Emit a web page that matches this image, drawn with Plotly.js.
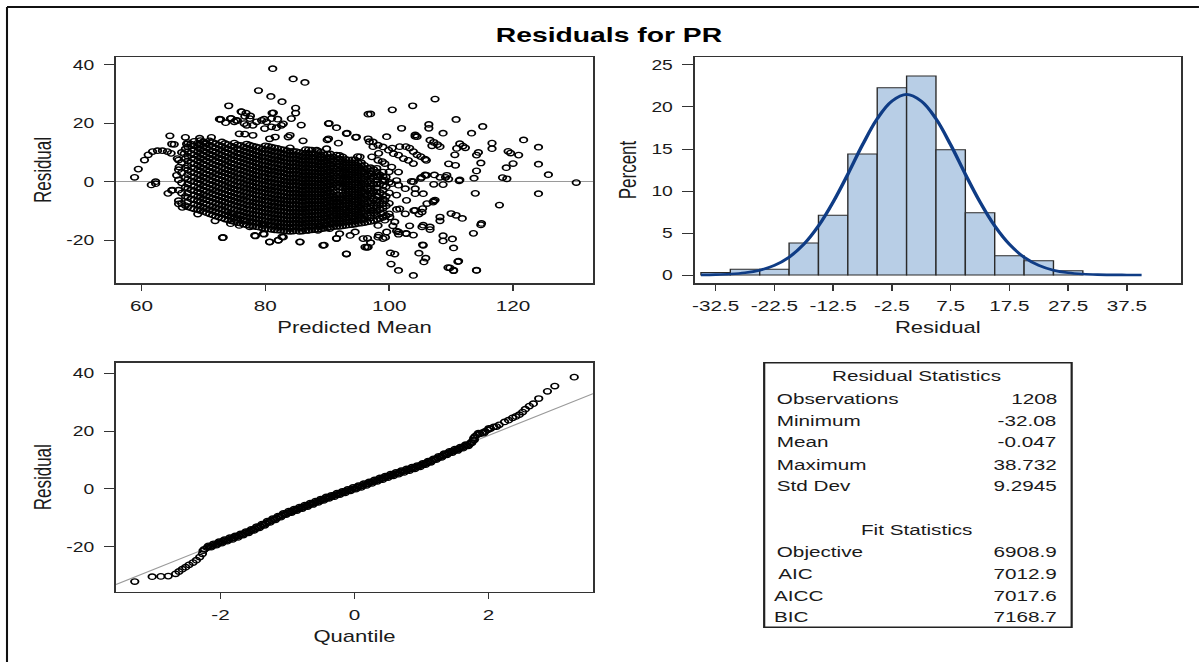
<!DOCTYPE html>
<html><head><meta charset="utf-8">
<script src="https://cdn.plot.ly/plotly-3.0.1.min.js"></script>
<style>
html,body{margin:0;padding:0;background:#fff;overflow:hidden;width:1199px;height:662px;}
#wrap{width:1199px;height:662px;overflow:hidden;position:relative;}
#chart{width:869px;height:662px;transform:scaleX(1.3797);transform-origin:0 0;}
</style></head><body><div id="wrap"><div id="chart"></div></div>
<script>
// ---------------- DATA ----------------
// Histogram of residuals (percent per 5-unit bin, centres)
const histCenters = [-32.5,-27.5,-22.5,-17.5,-12.5,-7.5,-2.5,2.5,7.5,12.5,17.5,22.5,27.5];
const histPercent = [0.3,0.7,0.7,3.8,7.1,14.4,22.3,23.7,14.9,7.4,2.3,1.7,0.5];
const histTickVals = [-32.5,-22.5,-12.5,-2.5,7.5,17.5,27.5,37.5];
const histTickText = ['-32.5','-22.5','-12.5','-2.5','7.5','17.5','27.5','37.5'];
// Normal density curve
const curveX = [-35,-32.5,-30,-27.5,-25,-22.5,-20,-17.5,-15,-12.5,-10,-7.5,-5,-2.5,0,2.5,5,7.5,10,12.5,15,17.5,20,22.5,25,27.5,30,32.5,35,37.5,40];
const curveY = [0.02,0.05,0.12,0.27,0.58,1.15,2.12,3.65,5.84,8.69,12.0,15.5,18.6,20.7,21.5,20.7,18.6,15.5,12.0,8.69,5.84,3.65,2.12,1.15,0.58,0.27,0.12,0.05,0.02,0.01,0.0];

// Axis tick labels (hyphen minus, as in the reference)
const resTickVals = [-20,0,20,40];
const resTickText = ['-20','0','20','40'];
const predTickVals = [60,80,100,120];
const predTickText = ['60','80','100','120'];
const pctTickVals = [0,5,10,15,20,25];
const pctTickText = ['0','5','10','15','20','25'];
const qTickVals = [-2,0,2];
const qTickText = ['-2','0','2'];

// Residual vs predicted mean: scattered points [predicted, residual]
const scatterSparse = [
[58.9,1.5],[59.5,4.3],[60.5,7.4],[61.1,9.2],[61.8,10.3],[62.6,10.6],[63.4,10.6],[64.2,10.3],[64.8,9.7],
[61.6,-1.1],[62.3,0],[62.3,-0.7],[64.3,-4],[64.9,-3],[65.0,-2.9],[66.0,-7.6],[66.6,-8.8],[69.1,-11.1],[71.9,-13.4],[73.2,-19.1],
[64.6,15.7],[64.9,12.9],[67.1,15.2],[67.3,12.9],[69.4,14.9],[71.3,15.2],[65.3,12.8],[69.3,12.8],[70.4,13.3],[66.9,9.6],[65.8,7.9],[66.1,5.0],[65.7,2.2],
[74.1,26],[72.6,21.4],[73.6,20.2],[74.5,21.7],[75.5,20.9],[76.1,24],[76.9,23.5],[75.8,16.4],[77.6,22.5],[78.9,31.2],[81.2,38.7],[80.9,29.2],[82.7,27.4],
[84.5,35.2],[86.4,34],[84.9,25.2],[84.9,23.5],[84.2,21.6],[85.8,19.4],[81.1,23.5],[79.8,21.4],[82.0,21.4],[82.9,19.8],
[81.3,23.6],[81.0,21.6],[80.2,20.5],[79.4,21.0],[78.6,20.5],[77.5,21.6],[76.7,22.4],[76.2,23.9],
[82.6,19.3],[81.8,18.5],[81.0,18.8],[79.9,18.2],[78.0,19.3],[77.0,19.3],
[84.0,15.9],[83.7,15.3],[81.6,15.3],[80.7,14.7],[78.0,15.9],[76.7,16.3],[86.1,14.0],
[72.8,21.3],[74.4,21.6],[75.0,20.5],[76.6,19.9],[75.3,21.0],
[90.2,19.9],[91.5,18.5],[93.1,16.5],[94.7,15.3],[90.2,14.7],[96.6,23.1],[90.3,20],[93.2,16.6],[94.6,15.2],[97,23.2],
[90.0,14.3],[91.8,13.2],[96.8,13.7],[97.4,12.0],[94.9,8.6],[98.3,9.7],[98.9,6.9],[88.3,10.8],[89.9,11.3],[95.3,8.5],
[100.5,24.6],[103.8,26],[107.4,28.3],[106.4,19.6],[106.4,18.3],[108.7,16.6],[110.8,21.3],[115.1,18.9],[113.3,16.6],[116.6,13.2],
[121.7,14.3],[124.1,11.8],[124.1,6],[125.7,2.4],[130.2,-0.3],[124.1,-4.1],[117.8,-8],[119.2,10.4],[119.6,9.8],[120.9,9.1],
[120.0,6.2],[118.9,4.8],[118.3,1.4],[119.0,1.0],[116.6,11.3],
[114.4,10],[114.1,9.1],[114.8,6.4],[114.1,3.7],[113.7,1.2],[113.9,-4.0],[114.8,-14.8],[113.6,-17.7],[114.1,-30.3],
[110.4,-30.5],[109.8,-29.5],[111.1,-27.4],[108.7,-20.3],[110.4,-22.7],[110.0,-10.9],[110.8,-11.5],[111.8,-12.6],[108.2,-13.4],[107.2,-6.6],
[103.9,-32.1],[101.5,-30.4],[100.3,-28.2],[100.2,-24.4],[100.9,-24.8],[104.8,-24.5],[105.9,-26.2],[105.6,-27.5],[105.4,-21.6],
[103.9,-18.3],[102.7,-17.7],[101.5,-18.0],[103.3,-15.1],[105.3,-15.5],[106.6,-16.4],
[93.1,-24.8],[89.5,-21.7],[91.5,-19.4],[85.6,-20.6],[80.7,-20.6],[82.1,-20],[82.7,-18.9],[78.4,-18.6],[79.8,-18],
[96.5,-19.4],[97,-20.9],[96.4,-22.5],[98.3,-18.3],[99.4,-19.1],[100.6,-15.1],[101.2,-16.9],[104,-9.9],[104.8,-11.1],[105.4,-9.2],
[107.3,2.3],[109.1,1.5],[108.7,-1],[109.6,0.9],[111.3,0.3],[107.2,-0.9],[105.8,2.3],[105.1,1.1],[103.9,0],[103.6,0.1],
[111.4,0.6],[109.3,2.2],[108.2,1.5],[106.0,2.2],[105.2,1.5],
[111.4,13.0],[111.9,12.2],[112.3,11.6],[110.9,11.4],[110.6,9.2],[109.6,6.1],[110.7,5.6],[106.0,7.3],
[106.6,14.2],[107.2,13.5],[107.8,12.7],[108.2,12.0],[106.9,12.3],[104.2,15.5],[102.0,18.3],[99.6,15.4],[104.5,15.4],[104.2,16.0],
[96.6,14.7],[97.4,13.6],[98.2,12.5],[99.0,11.9],[99.9,10.8],[100.7,9.6],[101.5,9.1],[102.3,7.9],[103.1,7.3],[103.9,6.2],
[100.5,11.5],[101.7,12.0],[102.7,12.0],[103.3,11.5],[103.9,10.3],[104.5,9.2],[105.1,8.6],[105.8,7.7],
[97.2,8.5],[98.2,7.3],[99.3,6.2],[100.4,5.0],[101.5,3.3],
[97.2,2.7],[98.2,1.6],[99.3,0.5],[100.4,-0.7],
[97.2,-4.1],[98.2,-5.2],[99.3,-6.4],
[97.4,-9.8],[98.7,-11],[100.1,-12.1],
[96.6,-22.4],[98.2,-19.0],[99.0,-19.5],[99.6,-17.2],[98.2,-15.0],[99.3,-13.2],[100.9,-13.8],[102.6,-11.0],[101.7,-9.3],[102.8,-6.4],
[104.2,-9.8],[105.3,-10.4],[106.1,-7.5],[107.1,-7.0],[105.5,-4.1],[104.2,-4.1],[104.2,-2.4],[102.6,-2.4],[101.5,-1.2],
[107.4,-6.3],[108.2,-12.1],[105.5,-14.9],[106.6,-15.5],[114.9,-14.3],[108.7,-18.5],[110.2,-19.6],[105.5,-21.8],[101.5,-17.2],[102.8,-17.8],
[109.5,-29.4],[110.4,-30.3],[111.2,-27.2],[114.1,-30.4],
[78.3,-18.4],[79.7,-17.8],[80.7,-20.7],[82.1,-20.1],[82.9,-19.0],[85.6,-20.7],[86.9,-16.7],[88.8,-15.5],[89.3,-21.8],[91.5,-19.5],
[93.1,-24.7],[94.5,-17.2],[95.8,-19.5],[96.1,-22.4],
[76.7,-13.2],[77.5,-15.5],[79.7,-15.0],[82.4,-15.5],[84.0,-16.1],[88.5,-16.7],[90.4,-16.1],[92.0,-17.8],[93.7,-18.4],
[74.7,-11],[74.4,-14.4],[75.8,-15.0],[75.3,-13.2],[73.1,-19.2]
];
// Dense core of the cloud: [predicted, [residuals...]]
const scatterCore = [
[66.0,[-6.5,-2.9,0.6,4.1,7.4]],
[66.5,[-7.4,-3.9,-0.4,3.1,6.6,10.0]],
[67.1,[-8.2,-5.0,-1.9,1.4,4.7,7.9,11.2]],
[67.5,[-8.6,-7.0,-5.4,-3.9,-2.3,-0.8,0.8,2.4,4.0,5.5,7.1,8.7,10.3,11.9,13.4]],
[68.0,[-9.0,-5.9,-2.8,0.3,3.4,6.5,9.7,12.9]],
[68.5,[-9.3,-7.7,-6.2,-4.6,-3.1,-1.6,0.0,1.5,3.0,4.6,6.1,7.7,9.2,10.8,12.3,13.8]],
[69.1,[-9.6,-8.1,-6.5,-5.0,-3.6,-2.0,-0.5,1.0,2.5,4.1,5.6,7.2,8.7,10.3,11.7,13.2]],
[69.5,[-9.9,-8.4,-6.9,-5.4,-3.9,-2.4,-0.9,0.6,2.1,3.6,5.1,6.6,8.1,9.6,11.1,12.6,14.1]],
[70.0,[-10.2,-8.8,-7.3,-5.8,-4.4,-2.9,-1.4,0.1,1.6,3.1,4.6,6.1,7.6,9.1,10.6,12.1,13.7]],
[70.5,[-10.6,-9.2,-7.7,-6.2,-4.8,-3.3,-1.8,-0.3,1.2,2.6,4.1,5.6,7.1,8.6,10.1,11.5,13.0]],
[71.0,[-11.0,-9.6,-8.2,-6.6,-5.2,-3.7,-2.3,-0.8,0.7,2.2,3.6,5.1,6.6,8.1,9.5,11.0,12.5,14.0]],
[71.5,[-11.4,-9.9,-8.5,-7.0,-5.6,-4.1,-2.7,-1.2,0.3,1.7,3.2,4.7,6.1,7.6,9.1,10.5,12.0,13.5]],
[72.0,[-11.8,-10.3,-8.9,-7.4,-6.0,-4.5,-3.1,-1.6,-0.2,1.3,2.8,4.2,5.7,7.2,8.6,10.1,11.6,13.0]],
[72.5,[-12.1,-10.7,-9.2,-7.8,-6.3,-4.9,-3.4,-2.0,-0.5,0.9,2.4,3.8,5.3,6.7,8.2,9.6,11.1,12.5]],
[73.0,[-12.4,-11.0,-9.5,-8.1,-6.7,-5.2,-3.8,-2.4,-0.9,0.5,2.0,3.4,4.9,6.3,7.8,9.2,10.7,12.1,13.6]],
[73.5,[-12.8,-11.3,-9.9,-8.5,-7.0,-5.6,-4.2,-2.7,-1.3,0.1,1.6,3.0,4.4,5.9,7.3,8.7,10.2,11.6,13.1]],
[74.0,[-13.1,-11.7,-10.3,-8.8,-7.4,-6.0,-4.6,-3.1,-1.7,-0.3,1.2,2.6,4.0,5.5,6.9,8.3,9.8,11.2,12.7]],
[74.5,[-13.4,-12.0,-10.6,-9.2,-7.7,-6.3,-4.9,-3.5,-2.1,-0.7,0.8,2.2,3.6,5.0,6.4,7.9,9.3,10.7,12.2]],
[75.0,[-13.7,-12.3,-10.9,-9.5,-8.1,-6.7,-5.3,-3.9,-2.5,-1.1,0.4,1.8,3.2,4.6,6.0,7.5,8.9,10.3,11.8,13.2]],
[75.5,[-14.0,-12.6,-11.2,-9.8,-8.4,-7.0,-5.6,-4.2,-2.8,-1.4,0.0,1.4,2.8,4.2,5.6,7.0,8.4,9.8,11.2,12.6]],
[76.0,[-14.2,-12.8,-11.4,-10.0,-8.6,-7.2,-5.8,-4.4,-3.0,-1.6,-0.2,1.2,2.6,4.0,5.4,6.8,8.2,9.6,11.0,12.4]],
[76.5,[-14.5,-13.1,-11.7,-10.3,-8.9,-7.5,-6.1,-4.8,-3.4,-2.0,-0.6,0.8,2.2,3.6,5.0,6.4,7.8,9.1,10.5,11.9]],
[77.0,[-14.8,-13.4,-12.0,-10.7,-9.3,-7.9,-6.5,-5.1,-3.7,-2.3,-1.0,0.4,1.8,3.2,4.6,6.0,7.3,8.7,10.1,11.5,12.9]],
[77.5,[-15.0,-13.6,-12.3,-10.9,-9.5,-8.1,-6.8,-5.4,-4.0,-2.6,-1.3,0.1,1.5,2.9,4.2,5.6,7.0,8.4,9.8,11.1,12.5]],
[78.0,[-15.2,-13.8,-12.5,-11.1,-9.7,-8.3,-7.0,-5.6,-4.2,-2.9,-1.5,-0.1,1.3,2.6,4.0,5.4,6.8,8.1,9.5,10.9,12.2]],
[78.5,[-15.4,-14.0,-12.7,-11.3,-9.9,-8.6,-7.2,-5.9,-4.5,-3.1,-1.8,-0.4,1.0,2.3,3.7,5.1,6.4,7.8,9.2,10.5,11.9]],
[79.0,[-15.6,-14.2,-12.9,-11.5,-10.1,-8.8,-7.4,-6.1,-4.7,-3.3,-2.0,-0.6,0.8,2.1,3.5,4.8,6.2,7.6,8.9,10.3,11.7]],
[79.5,[-15.8,-14.4,-13.1,-11.7,-10.4,-9.0,-7.7,-6.3,-5.0,-3.6,-2.3,-0.9,0.4,1.8,3.1,4.5,5.8,7.2,8.5,9.9,11.2]],
[80.0,[-16.0,-14.6,-13.3,-11.9,-10.6,-9.2,-7.9,-6.5,-5.2,-3.8,-2.5,-1.1,0.2,1.6,2.9,4.3,5.6,7.0,8.3,9.7,11.0,12.3]],
[80.5,[-16.2,-14.8,-13.5,-12.1,-10.8,-9.4,-8.1,-6.7,-5.4,-4.0,-2.7,-1.4,0.0,1.3,2.7,4.0,5.4,6.7,8.1,9.4,10.8,12.1]],
[81.0,[-16.3,-15.0,-13.6,-12.3,-10.9,-9.6,-8.3,-6.9,-5.6,-4.2,-2.9,-1.6,-0.2,1.1,2.5,3.8,5.1,6.5,7.8,9.2,10.5,11.8]],
[81.5,[-16.5,-15.1,-13.8,-12.5,-11.1,-9.8,-8.4,-7.1,-5.8,-4.4,-3.1,-1.8,-0.4,0.9,2.3,3.6,4.9,6.3,7.6,8.9,10.3,11.6]],
[82.0,[-16.6,-15.3,-13.9,-12.6,-11.3,-9.9,-8.6,-7.3,-5.9,-4.6,-3.3,-1.9,-0.6,0.7,2.1,3.4,4.7,6.1,7.4,8.7,10.1,11.4]],
[82.5,[-16.7,-15.4,-14.0,-12.7,-11.4,-10.1,-8.7,-7.4,-6.1,-4.8,-3.4,-2.1,-0.8,0.5,1.9,3.2,4.5,5.8,7.2,8.5,9.8,11.1]],
[83.0,[-16.8,-15.5,-14.2,-12.9,-11.5,-10.2,-8.9,-7.6,-6.3,-5.0,-3.6,-2.3,-1.0,0.3,1.6,3.0,4.3,5.6,6.9,8.2,9.6,10.9]],
[83.5,[-16.9,-15.6,-14.3,-13.0,-11.7,-10.4,-9.0,-7.7,-6.4,-5.1,-3.8,-2.5,-1.2,0.1,1.4,2.7,4.0,5.3,6.6,8.0,9.3,10.6]],
[84.0,[-17.0,-15.7,-14.4,-13.1,-11.8,-10.5,-9.2,-7.9,-6.6,-5.3,-4.0,-2.7,-1.4,-0.1,1.2,2.5,3.8,5.1,6.4,7.7,9.0,10.3,11.6]],
[84.5,[-16.9,-15.6,-14.3,-13.0,-11.7,-10.4,-9.1,-7.8,-6.5,-5.2,-3.9,-2.6,-1.3,0.0,1.3,2.6,3.9,5.2,6.5,7.8,9.1,10.4]],
[85.0,[-16.8,-15.5,-14.2,-12.9,-11.6,-10.4,-9.1,-7.8,-6.5,-5.2,-3.9,-2.6,-1.3,0.0,1.3,2.6,3.9,5.2,6.5,7.7,9.0,10.3]],
[85.5,[-17.0,-15.7,-14.4,-13.1,-11.8,-10.5,-9.2,-7.9,-6.6,-5.3,-4.1,-2.8,-1.5,-0.2,1.1,2.4,3.6,4.9,6.2,7.5,8.8,10.0]],
[86.0,[-16.9,-15.6,-14.3,-13.1,-11.8,-10.5,-9.3,-8.0,-6.7,-5.5,-4.2,-2.9,-1.7,-0.4,0.9,2.1,3.4,4.7,5.9,7.2,8.5,9.7]],
[86.5,[-16.7,-15.4,-14.2,-12.9,-11.6,-10.4,-9.1,-7.9,-6.6,-5.3,-4.1,-2.8,-1.5,-0.3,1.0,2.2,3.5,4.8,6.0,7.3,8.5,9.8,11.0]],
[87.0,[-16.6,-15.3,-14.1,-12.8,-11.6,-10.3,-9.1,-7.8,-6.6,-5.3,-4.1,-2.8,-1.6,-0.3,0.9,2.2,3.4,4.7,5.9,7.2,8.4,9.7,10.9]],
[87.5,[-16.5,-15.2,-14.0,-12.8,-11.5,-10.3,-9.0,-7.8,-6.6,-5.3,-4.1,-2.9,-1.6,-0.4,0.9,2.1,3.3,4.6,5.8,7.1,8.3,9.5,10.8]],
[88.0,[-16.4,-15.2,-13.9,-12.7,-11.5,-10.2,-9.0,-7.8,-6.5,-5.3,-4.1,-2.8,-1.6,-0.4,0.9,2.1,3.3,4.6,5.8,7.0,8.3,9.5]],
[88.5,[-16.3,-15.1,-13.9,-12.7,-11.4,-10.2,-9.0,-7.8,-6.6,-5.3,-4.1,-2.9,-1.7,-0.5,0.7,2.0,3.2,4.4,5.6,6.8,8.0,9.2,10.4]],
[89.0,[-16.2,-15.0,-13.8,-12.6,-11.4,-10.2,-9.0,-7.8,-6.6,-5.4,-4.2,-3.0,-1.8,-0.6,0.6,1.8,3.0,4.2,5.4,6.6,7.8,9.0,10.2]],
[89.5,[-16.0,-14.8,-13.6,-12.4,-11.2,-10.0,-8.8,-7.6,-6.4,-5.2,-4.0,-2.8,-1.6,-0.4,0.8,2.0,3.2,4.4,5.6,6.8,8.0,9.2]],
[90.0,[-15.8,-14.6,-13.4,-12.2,-11.0,-9.8,-8.6,-7.4,-6.2,-5.0,-3.8,-2.6,-1.4,-0.2,1.0,2.2,3.4,4.6,5.8,7.0,8.2,9.4]],
[90.5,[-15.6,-14.4,-13.2,-12.0,-10.8,-9.6,-8.4,-7.2,-6.1,-4.9,-3.7,-2.5,-1.3,-0.1,1.1,2.3,3.5,4.7,5.9,7.1,8.3,9.5]],
[91.0,[-15.4,-14.2,-13.0,-11.8,-10.6,-9.5,-8.3,-7.1,-5.9,-4.7,-3.5,-2.3,-1.1,0.1,1.3,2.5,3.6,4.8,6.0,7.2,8.4]],
[91.5,[-15.3,-14.1,-12.9,-11.7,-10.6,-9.4,-8.2,-7.0,-5.8,-4.6,-1.6,-0.4,0.8,2.0,3.2,4.4,5.5,6.7,7.9,9.1]],
[92.0,[-15.3,-14.1,-12.9,-11.7,-10.5,-9.4,-8.2,-7.0,-5.8,-4.6,-1.8,-0.6,0.6,1.8,3.0,4.2,5.4,6.6,7.8,9.0]],
[92.5,[-15.1,-13.9,-12.7,-11.6,-10.4,-9.2,-8.0,-6.8,-5.7,-4.5,-3.3,-2.1,-0.9,0.3,1.4,2.6,3.8,5.0,6.2,7.3,8.5]],
[93.0,[-15.0,-13.8,-12.6,-11.4,-10.3,-9.1,-7.9,-6.7,-5.5,-4.3,-3.1,-1.9,-0.7,0.5,1.7,2.9,4.0,5.2,6.4,7.6]],
[93.5,[-14.8,-13.7,-12.5,-11.3,-10.1,-9.0,-7.8,-6.6,-5.5,-4.3,-3.1,-1.9,-0.8,0.4,1.6,2.7,3.9,5.1,6.3,7.4]],
[94.0,[-14.7,-13.5,-12.3,-11.2,-10.0,-8.8,-7.7,-6.5,-5.3,-4.2,-3.0,-1.8,-0.7,0.5,1.7,2.8,4.0,5.2,6.3,7.5]],
[94.5,[-14.5,-13.4,-12.2,-11.0,-9.9,-8.7,-7.6,-6.4,-5.2,-4.1,-2.9,-1.8,-0.6,0.6,1.7,2.9,4.0,5.2,6.4,7.5]],
[95.0,[-14.3,-13.2,-12.0,-10.9,-9.7,-8.6,-7.4,-6.3,-5.1,-4.0,-2.8,-1.7,-0.5,0.6,1.8,2.9,4.1,5.2,6.4]],
[95.5,[-14.2,-13.0,-11.9,-10.7,-9.6,-8.4,-7.3,-6.1,-5.0,-3.8,-2.7,-1.5,-0.4,0.8,1.9,3.1,4.2,5.4,6.5]],
[96.0,[-14.0,-12.8,-11.7,-10.5,-9.4,-8.2,-7.1,-5.9,-4.8,-3.6,-2.5,-1.3,-0.2,1.0,2.1,3.3,4.4,5.6]],
[96.5,[-13.8,-11.5,-9.2,-6.9,-4.6,-2.3,0.0,2.3,4.6]],
[97.0,[-13.6,-12.4,-11.3,-10.1,-9.0,-7.8,-6.7,-5.5,-4.4,-3.2,-2.1,-0.9,0.2,1.4,2.5,3.7,4.8]],
[97.5,[-13.3,-10.8,-8.3,-5.8,-3.3,-0.8,1.7,4.2]],
[98.0,[-12.9,-11.6,-10.2,-8.9,-7.5,-6.2,-4.8,-3.5,-2.1,-0.8,0.6,1.9,3.3,4.6]],
[98.5,[-12.6,-9.6,-6.7,-3.7,-0.7,2.3]],
[99.0,[-12.2,-10.6,-9.1,-7.5,-6.0,-4.4,-2.9,-1.3,0.2,1.8,3.3]],
[99.5,[-11.6,-8.3,-5.0,-1.7,1.6]],
[100.0,[-11.0,-7.4,-3.8,-0.2,3.4]],
[101.2,[-9.5,-4.6,0.4]]
];

// Q-Q plot points [normal quantile, residual]
const qqPoints = [
[-3.28,-32.1],[-3.02,-30.4],[-2.89,-30.3],[-2.78,-30.2],[-2.67,-29.4],[-2.62,-28.6],[-2.57,-27.8],[-2.52,-27.1],[-2.47,-26.3],
[-2.41,-25.5],[-2.36,-24.7],[-2.31,-23.6],[-2.27,-22.5],[-2.26,-21.4],[-2.24,-20.9],
[-2.20,-20.3],[-2.16,-20.0],[-2.12,-19.6],[-2.08,-19.3],[-2.04,-18.9],[-2.00,-18.6],[-1.96,-18.2],[-1.92,-17.9],[-1.88,-17.6],
[-1.84,-17.2],[-1.80,-16.9],[-1.76,-16.5],[-1.72,-16.2],[-1.68,-15.8],[-1.64,-15.4],[-1.60,-15.0],[-1.56,-14.6],[-1.52,-14.2],
[-1.48,-13.8],[-1.44,-13.3],[-1.40,-12.9],[-1.36,-12.4],[-1.32,-11.9],[-1.28,-11.4],[-1.24,-11.0],[-1.20,-10.5],[-1.16,-10.1],
[-1.12,-9.6],[-1.08,-9.2],[-1.04,-8.7],[-1.00,-8.3],[-0.96,-8.0],[-0.92,-7.6],[-0.88,-7.3],[-0.84,-6.9],[-0.80,-6.6],[-0.76,-6.2],
[-0.72,-5.9],[-0.68,-5.5],[-0.64,-5.2],[-0.60,-4.8],[-0.56,-4.5],[-0.52,-4.1],[-0.48,-3.8],[-0.44,-3.4],[-0.40,-3.1],[-0.36,-2.8],
[-0.32,-2.4],[-0.28,-2.1],[-0.24,-1.8],[-0.20,-1.5],[-0.16,-1.1],[-0.12,-0.8],[-0.08,-0.5],[-0.04,-0.2],[0.00,0.1],[0.04,0.5],
[0.08,0.8],[0.12,1.1],[0.16,1.5],[0.20,1.8],[0.24,2.2],[0.28,2.5],[0.32,2.8],[0.36,3.2],[0.40,3.5],[0.44,3.8],[0.48,4.2],
[0.52,4.5],[0.56,4.8],[0.60,5.1],[0.64,5.4],[0.68,5.7],[0.72,6.0],[0.76,6.3],[0.80,6.6],[0.84,6.9],[0.88,7.2],[0.92,7.5],
[0.96,7.9],[1.00,8.2],[1.04,8.6],[1.08,9.0],[1.12,9.4],[1.16,9.8],[1.20,10.3],[1.24,10.7],[1.28,11.1],[1.32,11.5],[1.36,12.0],
[1.40,12.4],[1.44,12.8],[1.48,13.2],[1.52,13.5],[1.56,13.9],[1.60,14.3],[1.64,14.7],[1.68,15.1],[1.72,15.5],[1.75,15.9],
[1.77,16.8],[1.78,17.6],[1.80,18.2],[1.83,18.7],[1.87,19.1],[1.91,19.5],[1.95,19.9],[1.99,20.4],[2.03,20.9],[2.08,21.5],
[2.16,22.2],[2.24,23.2],[2.30,23.8],[2.36,24.6],[2.41,25.1],[2.46,25.7],[2.51,26.6],[2.55,27.6],[2.61,28.7],[2.67,29.5],
[2.75,31.3],[2.88,33.8],[2.99,35.6],[3.28,38.7]
];
const qqPointsBand = [
[-2.18,-19.7],[-2.14,-20.2],[-2.10,-19.0],[-2.06,-19.5],[-2.02,-18.3],[-1.98,-18.8],[-1.94,-17.6],[-1.90,-18.1],[-1.86,-16.9],
[-1.82,-17.5],[-1.78,-16.3],[-1.74,-16.8],[-1.70,-15.6],[-1.66,-16.0],[-1.62,-14.8],[-1.58,-15.2],[-1.54,-14.0],[-1.50,-14.4],
[-1.46,-13.1],[-1.42,-13.5],[-1.38,-12.2],[-1.34,-12.6],[-1.30,-11.2],[-1.26,-11.6],[-1.22,-10.3],[-1.18,-10.7],[-1.14,-9.4],
[-1.10,-9.8],[-1.06,-8.5],[-1.02,-8.9],[-0.98,-7.7],[-0.94,-8.2],[-0.90,-7.0],[-0.86,-7.5],[-0.82,-6.3],[-0.78,-6.8],[-0.74,-5.6],
[-0.70,-6.1],[-0.66,-4.9],[-0.62,-5.4],[-0.58,-4.2],[-0.54,-4.7],[-0.50,-3.5],[-0.46,-4.0],[-0.42,-2.8],[-0.38,-3.3],[-0.34,-2.2],
[-0.30,-2.7],[-0.26,-1.5],[-0.22,-2.0],[-0.18,-0.9],[-0.14,-1.4],[-0.10,-0.2],[-0.06,-0.7],[-0.02,0.5],[0.02,-0.1],[0.06,1.1],
[0.10,0.5],[0.14,1.8],[0.18,1.2],[0.22,2.4],[0.26,1.9],[0.30,3.1],[0.34,2.6],[0.38,3.8],[0.42,3.2],[0.46,4.4],[0.50,3.9],
[0.54,5.1],[0.58,4.5],[0.62,5.7],[0.66,5.1],[0.70,6.3],[0.74,5.7],[0.78,6.9],[0.82,6.3],[0.86,7.5],[0.90,6.9],[0.94,8.1],
[0.98,7.6],[1.02,8.8],[1.06,8.4],[1.10,9.6],[1.14,9.2],[1.18,10.4],[1.22,10.1],[1.26,11.3],[1.30,10.9],[1.34,12.2],[1.38,11.8],
[1.42,13.0],[1.46,12.6],[1.50,13.8],[1.54,13.3],[1.58,14.5],[1.62,14.1],[1.66,15.3],[1.70,14.9],[1.74,16.1],[1.79,17.0],
[1.85,19.3],[1.93,19.3],[2.01,21.0],[2.12,21.6]
];
const qqLineX = [-3.56, 3.56];
const qqLineY = [-33.1, 33.0];

// Statistics table
const residualStatLabels = ['Observations','Minimum','Mean','Maximum','Std Dev'];
const residualStatValues = ['1208','-32.08','-0.047','38.732','9.2945'];
const fitStatLabels = ['Objective','AIC','AICC','BIC'];
const fitStatValues = ['6908.9','7012.9','7017.6','7168.7'];

// ---------------- BUILD ----------------
const FW = 1199, FH = 662;            // reference pixel frame
const px = v => v / FW;               // horizontal pixel -> paper
const py = v => 1 - v / FH;           // vertical pixel -> paper
const FONT = 'Liberation Sans, Arial, sans-serif';
const TXT = '#1a1a1a';

const predMean = [], residual = [];
scatterCore.forEach(c => c[1].forEach(r => { predMean.push(c[0]); residual.push(r); }));
scatterSparse.forEach(p => { predMean.push(p[0]); residual.push(p[1]); });
const qqAll = qqPoints.concat(qqPointsBand);
const qqX = qqAll.map(p => p[0]);
const qqY = qqAll.map(p => p[1]);

const openMarker = {symbol:'circle-open', size:5.4, color:'#000', line:{width:1.35, color:'#000'}};

const traces = [
  {type:'scatter', mode:'markers', x:predMean, y:residual, xaxis:'x', yaxis:'y', marker:openMarker, hoverinfo:'skip'},
  {type:'bar', x:histCenters, y:histPercent, width:5, xaxis:'x2', yaxis:'y2',
   marker:{color:'#b8cee6', line:{color:'#2a2a2a', width:1}}, hoverinfo:'skip'},
  {type:'scatter', mode:'lines', x:curveX, y:curveY, xaxis:'x2', yaxis:'y2',
   line:{color:'#0f3c85', width:2.6, shape:'spline', smoothing:1}, hoverinfo:'skip'},
  {type:'scatter', mode:'lines', x:qqLineX, y:qqLineY, xaxis:'x3', yaxis:'y3',
   line:{color:'#9a9a9a', width:1}, hoverinfo:'skip'},
  {type:'scatter', mode:'markers', x:qqX, y:qqY, xaxis:'x3', yaxis:'y3', marker:openMarker, hoverinfo:'skip'}
];

const xCommon = {showline:true, mirror:true, linecolor:'#333', linewidth:1.5, ticks:'outside', ticklen:6, tickwidth:1,
  tickcolor:'#333', showgrid:false, zeroline:false, fixedrange:true, ticklabelstandoff:3,
  tickfont:{family:FONT, size:15, color:TXT}};
const yCommon = {showline:true, mirror:true, linecolor:'#333', linewidth:1.5, ticks:'outside', ticklen:7.5, tickwidth:1,
  tickcolor:'#333', showgrid:false, zeroline:false, fixedrange:true, ticklabelstandoff:4,
  tickfont:{family:FONT, size:14, color:TXT}};
const xTitle = t => ({text:t, font:{family:FONT, size:16, color:TXT}, standoff:8});
const yTitle = t => ({text:t, font:{family:FONT, size:17, color:TXT}, standoff:6});

const annotations = [];
const annot = (text, x, y, xanchor) => annotations.push({text, x:px(x), y:py(y), xref:'paper', yref:'paper',
  xanchor, yanchor:'middle', showarrow:false, font:{family:FONT, size:15, color:TXT}});
annot('Residual Statistics', 917, 375.7, 'center');
const resRowsY = [398.3, 420, 441.7, 464, 485.7];
residualStatLabels.forEach((l,i) => { annot(l, 773.8, resRowsY[i], 'left'); annot(residualStatValues[i], 1059.5, resRowsY[i], 'right'); });
annot('Fit Statistics', 917, 529.3, 'center');
const fitRowsY = [551.7, 573.3, 595, 616.7];
const fitLabelX = [773.8, 775.7, 771.9, 770.7];
fitStatLabels.forEach((l,i) => { annot(l, fitLabelX[i], fitRowsY[i], 'left'); annot(fitStatValues[i], 1059.5, fitRowsY[i], 'right'); });

const layout = {
  width:869, height:662, margin:{l:0, r:0, t:0, b:0}, paper_bgcolor:'#fff', plot_bgcolor:'#fff', showlegend:false, bargap:0,
  title:{text:'Residuals for PR', x:px(609), xref:'paper', xanchor:'center', y:py(35), yref:'paper', yanchor:'middle',
    font:{family:FONT, size:20.5, color:'#000', weight:700}},
  xaxis:Object.assign({}, xCommon, {domain:[px(116), px(593)], anchor:'y', range:[55.9,132.9],
    tickvals:predTickVals, ticktext:predTickText, title:xTitle('Predicted Mean')}),
  yaxis:Object.assign({}, yCommon, {domain:[py(283), py(57)], anchor:'x', range:[-34.7,42.7],
    tickvals:resTickVals, ticktext:resTickText,
    zeroline:true, zerolinecolor:'#9a9a9a', zerolinewidth:1.2, title:yTitle('Residual')}),
  xaxis2:Object.assign({}, xCommon, {domain:[px(694.7), px(1181)], anchor:'y2', range:[-36.07,46.7],
    tickvals:histTickVals, ticktext:histTickText, title:xTitle('Residual')}),
  yaxis2:Object.assign({}, yCommon, {domain:[py(283), py(57)], anchor:'x2', range:[-0.95,25.95],
    tickvals:pctTickVals, ticktext:pctTickText, title:yTitle('Percent')}),
  xaxis3:Object.assign({}, xCommon, {domain:[px(116), px(593)], anchor:'y3', range:[-3.56,3.56],
    tickvals:qTickVals, ticktext:qTickText, title:xTitle('Quantile')}),
  yaxis3:Object.assign({}, yCommon, {domain:[py(591.7), py(362.7)], anchor:'x3', range:[-35.6,43.7],
    tickvals:resTickVals, ticktext:resTickText, title:yTitle('Residual')}),
  shapes:[
    {type:'line', xref:'paper', yref:'paper', x0:px(7), x1:px(7), y0:0, y1:py(7), line:{color:'#111', width:1.5}},
    {type:'line', xref:'paper', yref:'paper', x0:px(7), x1:1, y0:py(7), y1:py(7), line:{color:'#111', width:2}},
    {type:'rect', xref:'paper', yref:'paper', x0:px(764.2), x1:px(1071.7), y0:py(627.3), y1:py(362.7),
     line:{color:'#222', width:1.6}, fillcolor:'rgba(0,0,0,0)'}
  ],
  annotations
};

Plotly.newPlot('chart', traces, layout, {staticPlot:true, displayModeBar:false});
</script></body></html>
